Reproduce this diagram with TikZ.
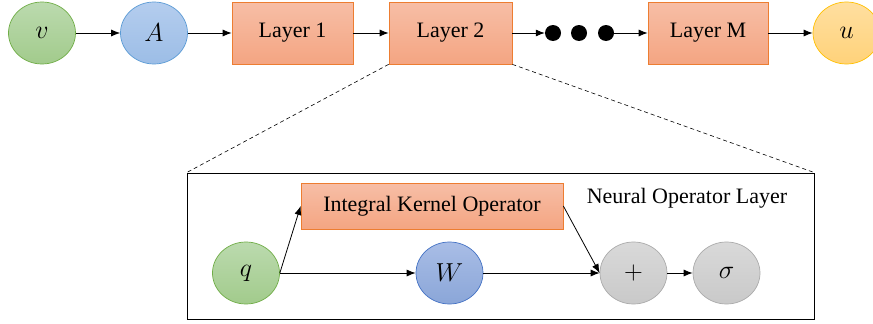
\RequirePackage{fix-cm}
\documentclass[tikz,border=0pt]{standalone}
\usepackage{fontspec}
\setmainfont{Liberation Serif}
\DeclareMathSizes{22}{26}{18}{13}
\usetikzlibrary{arrows.meta,shapes.geometric}
\definecolor{gtop}{HTML}{BBDAAE}
\definecolor{gbot}{HTML}{A2CB8C}
\definecolor{gline}{HTML}{70AD47}
\definecolor{btop}{HTML}{B4CDEE}
\definecolor{bbot}{HTML}{9CBDE6}
\definecolor{bline}{HTML}{5B9BD5}
\definecolor{otop}{HTML}{F7BEA6}
\definecolor{obot}{HTML}{F4A582}
\definecolor{oline}{HTML}{ED7D31}
\definecolor{ytop}{HTML}{FFDFA0}
\definecolor{ybot}{HTML}{FFD27A}
\definecolor{yline}{HTML}{FFC000}
\definecolor{wtop}{HTML}{A9BDE6}
\definecolor{wbot}{HTML}{8AA6D8}
\definecolor{wline}{HTML}{4472C4}
\definecolor{stop}{HTML}{D9D9D9}
\definecolor{sbot}{HTML}{C9C9C9}
\definecolor{sline}{HTML}{ABABAB}
\begin{document}
\begin{tikzpicture}[x=1pt,y=-1pt,
  every node/.style={font=\fontsize{22}{26}\selectfont},
  circ/.style={ellipse, minimum width=67pt, minimum height=62pt, inner sep=0pt, line width=0.7pt},
  gcirc/.style={circ, draw=gline, top color=gtop, bottom color=gbot},
  bcirc/.style={circ, draw=bline, top color=btop, bottom color=bbot},
  ycirc/.style={circ, draw=yline, top color=ytop, bottom color=ybot},
  wcirc/.style={circ, draw=wline, top color=wtop, bottom color=wbot},
  scirc/.style={circ, draw=sline, top color=stop, bottom color=sbot},
  layerbox/.style={rectangle, draw=oline, line width=0.7pt, top color=otop, bottom color=obot, inner sep=0pt},
  dot/.style={circle, fill=black, minimum size=16pt, inner sep=0pt},
  arr/.style={-{Latex[length=9pt,width=7pt]}, line width=0.8pt},
]
\useasboundingbox (0,0) rectangle (873,324);
% top row
\node[gcirc] (v) at (42,33) {$v$};
\node[bcirc] (A) at (154,33) {$A$};
\node[layerbox, minimum width=121pt, minimum height=62pt] (L1) at (292.5,33) {Layer 1};
\node[layerbox, minimum width=123pt, minimum height=62pt] (L2) at (450.5,33) {Layer 2};
\node[dot] (d1) at (553,33) {};
\node[dot] (d2) at (579,33) {};
\node[dot] (d3) at (606,33) {};
\node[layerbox, minimum width=120pt, minimum height=62pt] (LM) at (708,33) {Layer M};
\node[ycirc] (u) at (846.5,33) {$u$};
\draw[arr] (v) -- (A);
\draw[arr] (A) -- (L1);
\draw[arr] (L1) -- (L2);
\draw[arr] (L2) -- (d1);
\draw[arr] (d3) -- (LM);
\draw[arr] (LM) -- (u);
% inner box
\node[draw, line width=0.8pt, minimum width=627pt, minimum height=146pt, inner sep=0pt] (box) at (500.5,246) {};
\draw[dash pattern=on 4pt off 3pt, line width=0.6pt] (L2.south west) -- (box.north west);
\draw[dash pattern=on 4pt off 3pt, line width=0.6pt] (L2.south east) -- (box.north east);
\node (nol) at (687,198) {Neural Operator Layer};
\node[layerbox, minimum width=262pt, minimum height=46pt] (iko) at (432,206) {Integral Kernel Operator};
\node[gcirc] (q) at (246,273) {$q$};
\node[wcirc] (W) at (449.5,273) {$W$};
\node[scirc] (plus) at (633.5,273) {$+$};
\node[scirc] (sig) at (726.5,273) {$\sigma$};
\draw[arr] (q.east) -- (iko.west);
\draw[arr] (q) -- (W);
\draw[arr] (W) -- (plus);
\draw[arr] (iko.east) -- (plus.west);
\draw[arr] (plus) -- (sig);
\end{tikzpicture}
\end{document}
